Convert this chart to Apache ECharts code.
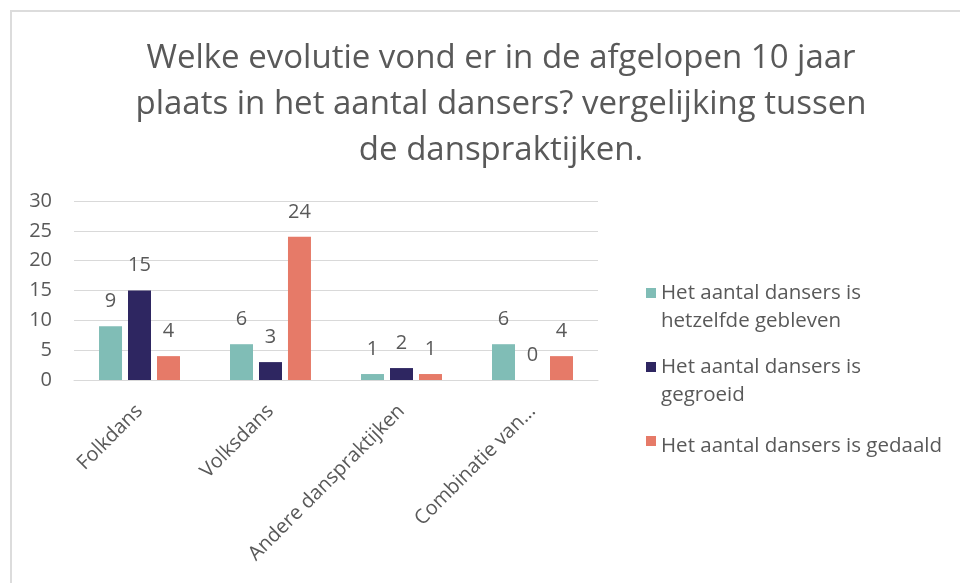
<!DOCTYPE html>
<html>
<head>
<meta charset="utf-8">
<script src="https://cdn.jsdelivr.net/npm/echarts@6/dist/echarts.min.js"></script>
<style>
  body { margin: 0; background: #fff; }
  #chart { width: 960px; height: 583px; }
  #frame { position: absolute; left: 10px; top: 10px; width: 1000px; height: 1000px;
           border: 2px solid #dcdcdc; pointer-events: none; }
</style>
</head>
<body>
<div id="chart"></div>
<div id="frame"></div>
<script>
// categorieën en waarden
var categories = ['Folkdans', 'Volksdans', 'Andere danspraktijken', 'Combinatie van...'];
var seriesNames = ['Het aantal dansers is hetzelfde gebleven', 'Het aantal dansers is gegroeid', 'Het aantal dansers is gedaald'];
var legendLabels = ['Het aantal dansers is\nhetzelfde gebleven', 'Het aantal dansers is\ngegroeid', 'Het aantal dansers is gedaald'];
var gelijk = [9, 6, 1, 6];
var gegroeid = [15, 3, 2, 0];
var gedaald = [4, 24, 1, 4];
var colors = ['#80bdb6', '#2e2661', '#e67a68'];

var font = "'Open Sans', sans-serif";
var grey = '#595959';

// legend icons: square at the first text line (box is 10 x 38)
var iconTop = 'path://M0,0H10V10H0Z M0,38L0,38';
var iconMid = 'path://M0,9H10V19H0Z M0,0L0,0 M0,38L0,38';

function barSeries(i, data) {
  return {
    name: seriesNames[i],
    type: 'bar',
    data: data,
    barWidth: 23,
    barGap: '26%',
    itemStyle: { color: colors[i] },
    label: { show: true, position: 'top', distance: 15, color: grey, fontSize: 20, fontFamily: font }
  };
}

var chart = echarts.init(document.getElementById('chart'));
chart.setOption({
  animation: false,
  title: {
    text: 'Welke evolutie vond er in de afgelopen 10 jaar\nplaats in het aantal dansers? vergelijking tussen\nde danspraktijken.',
    left: 496,
    top: 31,
    textAlign: 'center',
    textStyle: { color: grey, fontSize: 33, fontWeight: 'normal', fontFamily: font, lineHeight: 46 }
  },
  legend: {
    orient: 'vertical',
    left: 641,
    top: 274,
    itemWidth: 10,
    itemHeight: 38,
    itemGap: 18,
    data: [
      { name: seriesNames[0], icon: iconTop },
      { name: seriesNames[1], icon: iconTop },
      { name: seriesNames[2], icon: iconMid, textStyle: { padding: [0, 0, 10, 0] } }
    ],
    formatter: function (name) { return legendLabels[seriesNames.indexOf(name)]; },
    textStyle: { color: grey, fontSize: 20.5, fontFamily: font, lineHeight: 28 }
  },
  grid: { left: 74, right: 362, top: 201, bottom: 203 },
  xAxis: {
    type: 'category',
    data: categories,
    axisLine: { lineStyle: { color: '#d9d9d9' } },
    axisTick: { show: false },
    axisLabel: { rotate: 45, color: grey, fontSize: 20, fontFamily: font, margin: 28, interval: 0 }
  },
  yAxis: {
    type: 'value',
    min: 0, max: 30, interval: 5,
    axisLabel: { color: grey, fontSize: 20, fontFamily: font, margin: 22 },
    splitLine: { lineStyle: { color: '#d9d9d9' } }
  },
  series: [barSeries(0, gelijk), barSeries(1, gegroeid), barSeries(2, gedaald)]
});
</script>
</body>
</html>
